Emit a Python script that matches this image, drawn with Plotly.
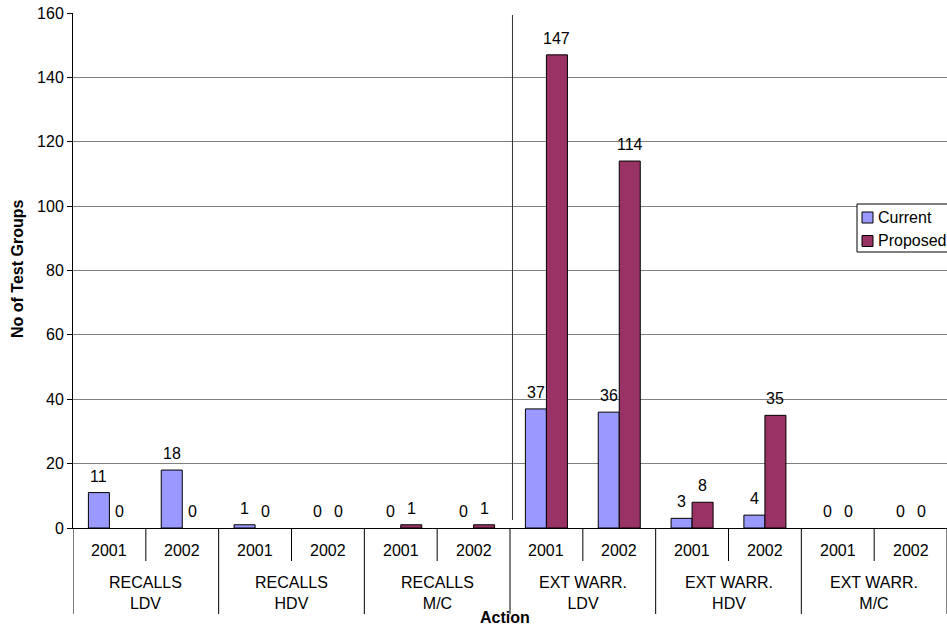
import plotly.graph_objects as go

# Category structure: action groups, each split into two years
groups = ["RECALLS<br>LDV", "RECALLS<br>HDV", "RECALLS<br>M/C",
          "EXT WARR.<br>LDV", "EXT WARR.<br>HDV", "EXT WARR.<br>M/C"]
years = ["2001", "2002"]

# Number of test groups per series, in category order
series_names = ["Current", "Proposed"]
series_colors = ["#9999FF", "#993366"]
current = [11, 18, 1, 0, 0, 0, 37, 36, 3, 4, 0, 0]
proposed = [0, 0, 0, 0, 1, 1, 147, 114, 8, 35, 0, 0]

y_ticks = [0, 20, 40, 60, 80, 100, 120, 140, 160]

FONT = "Arial, Liberation Sans, sans-serif"
FS = 16
PLOT_L, PLOT_W = 73, 874   # plot area left edge and width in px
PLOT_B, PLOT_H = 528, 515  # plot area bottom edge and height in px


def px_x(x):
    return (x - PLOT_L) / PLOT_W


def px_y(y):
    return (PLOT_B - y) / PLOT_H


keys = [f"{g.replace('<br>', ' ')} {y}" for g in groups for y in years]

fig = go.Figure()
for name, color, vals in zip(series_names, series_colors, [current, proposed]):
    fig.add_trace(go.Bar(
        x=keys, y=vals, name=name, showlegend=False,
        marker=dict(color=color,
                    line=dict(color="black", width=[1 if v else 0 for v in vals])),
    ))

annotations = []
shapes = []

# value labels above each bar
for i, (c, p) in enumerate(zip(current, proposed)):
    for val, dx in ((c, -10.5), (p, 10.5)):
        annotations.append(dict(x=i, y=val, xref="x", yref="y", text=str(val),
                                showarrow=False, xshift=dx, yshift=6, yanchor="bottom",
                                font=dict(family=FONT, size=FS, color="black")))

# year labels and separators between years
for i, k in enumerate(keys):
    annotations.append(dict(x=i, y=px_y(550), xref="x", yref="paper",
                            text=years[i % 2], showarrow=False, yanchor="middle",
                            font=dict(family=FONT, size=FS, color="black")))
    if i % 2 == 0:
        shapes.append(dict(type="line", xref="x", yref="paper", x0=i + 0.5, x1=i + 0.5,
                           y0=0, y1=px_y(561), line=dict(color="black", width=1)))

# group labels and separators between groups
for g_i, g in enumerate(groups):
    annotations.append(dict(x=2 * g_i + 0.5, y=px_y(593), xref="x", yref="paper",
                            text=g, showarrow=False, yanchor="middle",
                            font=dict(family=FONT, size=FS, color="black")))
for b in range(len(groups) + 1):
    xb = 2 * b - 0.5
    shapes.append(dict(type="line", xref="x", yref="paper", x0=xb, x1=xb,
                       y0=0, y1=px_y(614), line=dict(color="black", width=1)))

# vertical rule between recalls and extended warranty actions
shapes.append(dict(type="line", xref="x", yref="paper", x0=5.534, x1=5.534,
                   y0=px_y(520), y1=px_y(15), line=dict(color="#333333", width=1)))

# legend box with swatches
shapes.append(dict(type="rect", xref="paper", yref="paper",
                   x0=px_x(857), x1=px_x(960), y0=px_y(252), y1=px_y(204),
                   fillcolor="white", line=dict(color="black", width=1)))
for j, (name, color) in enumerate(zip(series_names, series_colors)):
    cy = 217.5 + 23.5 * j
    shapes.append(dict(type="rect", xref="paper", yref="paper",
                       x0=px_x(862), x1=px_x(873), y0=px_y(cy + 5.5), y1=px_y(cy - 5.5),
                       fillcolor=color, line=dict(color="black", width=1)))
    annotations.append(dict(x=px_x(876), y=px_y(cy), xref="paper", yref="paper",
                            text=name, showarrow=False, xanchor="left", yanchor="middle",
                            font=dict(family=FONT, size=FS, color="black")))

# axis titles
annotations.append(dict(x=px_x(505), y=px_y(617), xref="paper", yref="paper",
                        text="<b>Action</b>", showarrow=False, yanchor="middle",
                        font=dict(family=FONT, size=FS, color="black")))
annotations.append(dict(x=px_x(17), y=px_y(269), xref="paper", yref="paper",
                        text="<b>No of Test Groups</b>", showarrow=False, textangle=-90,
                        xanchor="center", yanchor="middle",
                        font=dict(family=FONT, size=FS, color="black")))

fig.update_layout(
    width=947, height=629,
    margin=dict(l=PLOT_L, r=947 - PLOT_L - PLOT_W, t=PLOT_B - PLOT_H, b=629 - PLOT_B,
                autoexpand=False),
    paper_bgcolor="white", plot_bgcolor="white",
    barmode="group", bargap=0.423, bargroupgap=0,
    font=dict(family=FONT, size=FS, color="black"),
    showlegend=False,
    annotations=annotations,
    shapes=shapes,
)
fig.update_xaxes(type="category", range=[-0.5, 11.5], showticklabels=False,
                 showgrid=False, showline=True, linecolor="black", linewidth=1,
                 ticks="", zeroline=False)
fig.update_yaxes(range=[0, 160], tickvals=y_ticks, showgrid=True, gridcolor="#808080",
                 gridwidth=1, showline=True, linecolor="black", linewidth=1,
                 ticks="outside", ticklen=5, tickcolor="black", zeroline=False,
                 tickfont=dict(family=FONT, size=FS, color="black"))

fig.write_html("out.html")
